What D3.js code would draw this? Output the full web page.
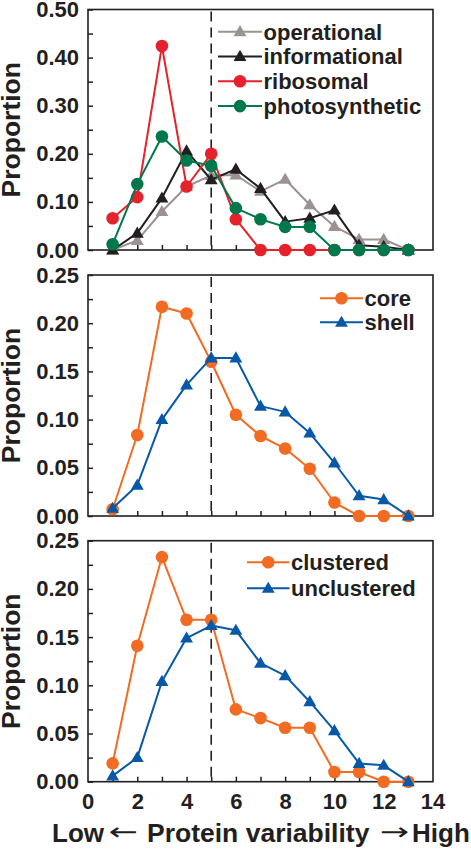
<!DOCTYPE html>
<html><head><meta charset="utf-8">
<script src="https://cdn.jsdelivr.net/npm/d3@7"></script>
<style>
html,body{margin:0;padding:0;background:#fff;}
svg{display:block;}
text{font-family:"Liberation Sans",Arial,Helvetica,sans-serif;font-weight:bold;fill:#231f20;}
</style></head>
<body>
<svg id="chart" width="471" height="849"></svg>
<script>
// ---------- data ----------
const variability = [1,2,3,4,5,6,7,8,9,10,11,12,13];
const operational    = [0.000,0.020,0.080,0.132,0.155,0.156,0.122,0.147,0.094,0.049,0.022,0.022,0.000];
const informational  = [0.000,0.035,0.108,0.206,0.146,0.168,0.128,0.059,0.066,0.083,0.010,0.007,0.000];
const ribosomal      = [0.066,0.110,0.424,0.132,0.200,0.064,0.000,0.000,0.000,0.000,0.000,0.000,0.000];
const photosynthetic = [0.012,0.137,0.236,0.186,0.175,0.087,0.064,0.048,0.048,0.000,0.000,0.000,0.000];
const core    = [0.007,0.084,0.217,0.210,0.160,0.105,0.083,0.070,0.049,0.014,0.000,0.000,0.000];
const shell   = [0.008,0.032,0.100,0.136,0.164,0.164,0.114,0.108,0.086,0.055,0.021,0.017,0.000];
const clustered   = [0.019,0.141,0.233,0.168,0.168,0.075,0.066,0.056,0.056,0.010,0.010,0.000,0.000];
const unclustered = [0.006,0.025,0.104,0.149,0.162,0.157,0.123,0.110,0.083,0.053,0.019,0.017,0.000];
const xTickValues = [0,1,2,3,4,5,6,7,8,9,10,11,12,13,14];
const xTickLabels = ["0","","2","","4","","6","","8","","10","","12","","14"];
const yTicksTop = [0,0.05,0.10,0.15,0.20,0.25,0.30,0.35,0.40,0.45,0.50];
const yLabelsTop = [0,0.10,0.20,0.30,0.40,0.50];
const yTicksLow = [0,0.025,0.05,0.075,0.10,0.125,0.15,0.175,0.20,0.225,0.25];
const yLabelsLow = [0,0.05,0.10,0.15,0.20,0.25];
const dividerX = 5;
const yTitle = "Proportion";
const xTitleParts = ["Low","←","Protein variability","→","High"];

// ---------- styles ----------
const COL = {operational:"#9b9291", informational:"#231f20", ribosomal:"#e5222b",
  photosynthetic:"#00784b", orange:"#f26b22", blue:"#0759a8"};
const ink = "#231f20";

const panels = [
  {top:9.5, bottom:250, ymax:0.5, ticks:yTicksTop, labels:yLabelsTop,
   series:[
    {name:"operational", values:operational, color:COL.operational, shape:"tri"},
    {name:"informational", values:informational, color:COL.informational, shape:"tri"},
    {name:"ribosomal", values:ribosomal, color:COL.ribosomal, shape:"circ"},
    {name:"photosynthetic", values:photosynthetic, color:COL.photosynthetic, shape:"circ"}],
   legend:{x1:218, x2:262, y0:31.7, dy:24.8}},
  {top:275, bottom:516, ymax:0.25, ticks:yTicksLow, labels:yLabelsLow,
   series:[
    {name:"core", values:core, color:COL.orange, shape:"circ"},
    {name:"shell", values:shell, color:COL.blue, shape:"tri"}],
   legend:{x1:320, x2:363, y0:298.3, dy:24}},
  {top:540.7, bottom:781.7, ymax:0.25, ticks:yTicksLow, labels:yLabelsLow,
   series:[
    {name:"clustered", values:clustered, color:COL.orange, shape:"circ"},
    {name:"unclustered", values:unclustered, color:COL.blue, shape:"tri"}],
   legend:{x1:247, x2:289.5, y0:562.3, dy:26}}
];

const svg = d3.select("#chart");
const x = d3.scaleLinear().domain([0,14]).range([88,433]);
const tri = d3.symbol().type(d3.symbolTriangle).size(72);

function marker(g, shape, color, cx, cy){
  if(shape==="circ"){
    g.append("circle").attr("cx",cx).attr("cy",cy).attr("r",6.3).attr("fill",color);
  } else {
    g.append("path").attr("d",tri()).attr("transform",`translate(${cx},${cy+0.8})`).attr("fill",color);
  }
}

panels.forEach((p,pi)=>{
  const y = d3.scaleLinear().domain([0,p.ymax]).range([p.bottom,p.top]);
  const g = svg.append("g");
  g.append("rect").attr("x",x(0)).attr("y",p.top).attr("width",x(14)-x(0)).attr("height",p.bottom-p.top)
    .attr("fill","none").attr("stroke",ink).attr("stroke-width",1.6);
  const fmt = d=> p.labels.some(l=>Math.abs(l-d)<1e-9) ? d3.format(".2f")(d) : "";
  const ya = g.append("g").attr("transform",`translate(${x(0)},0)`)
    .call(d3.axisLeft(y).tickValues(p.ticks).tickFormat(fmt).tickSize(-5).tickSizeOuter(0).tickPadding(9));
  ya.select(".domain").remove();
  ya.selectAll("line").attr("stroke",ink).attr("stroke-width",1.5);
  ya.selectAll("text").attr("font-size",22).attr("fill",ink).style("font-family",null);
  const last = pi===panels.length-1;
  const xa = g.append("g").attr("transform",`translate(0,${p.bottom})`)
    .call(d3.axisBottom(x).tickValues(xTickValues.slice(1,-1)).tickFormat((d,i)=> last ? xTickLabels[i+1] : "")
      .tickSize(-5).tickSizeOuter(0).tickPadding(11.5));
  xa.select(".domain").remove();
  xa.selectAll("line").attr("stroke",ink).attr("stroke-width",1.5);
  xa.selectAll("text").attr("font-size",22).attr("fill",ink);
  if(last){
    [0,14].forEach((v)=>{
      g.append("text").attr("x",x(v)).attr("y",p.bottom+11.5).attr("dy","0.71em")
       .attr("text-anchor","middle").attr("font-size",22).text(xTickLabels[xTickValues.indexOf(v)]);
    });
  }
  g.append("line").attr("x1",x(dividerX)).attr("x2",x(dividerX)).attr("y1",p.top+2).attr("y2",p.bottom)
    .attr("stroke",ink).attr("stroke-width",1.6).attr("stroke-dasharray","10,6");
  g.append("text").attr("transform",`translate(20,${(p.top+p.bottom)/2}) rotate(-90)`)
    .attr("text-anchor","middle").attr("font-size",26.5).text(yTitle);
  p.series.forEach(s=>{
    const line = d3.line().x((d,i)=>x(variability[i])).y(d=>y(d));
    g.append("path").datum(s.values).attr("d",line).attr("fill","none")
      .attr("stroke",s.color).attr("stroke-width",2).attr("stroke-linejoin","round");
    const mg = g.append("g");
    s.values.forEach((v,i)=> marker(mg, s.shape, s.color, x(variability[i]), y(v)));
  });
  p.series.forEach((s,i)=>{
    const ly = p.legend.y0 + i*p.legend.dy;
    g.append("line").attr("x1",p.legend.x1).attr("x2",p.legend.x2).attr("y1",ly).attr("y2",ly)
      .attr("stroke",s.color).attr("stroke-width",2);
    marker(g, s.shape, s.color, (p.legend.x1+p.legend.x2)/2, ly);
    g.append("text").attr("x",p.legend.x2+1.5).attr("y",ly).attr("dy","0.36em")
      .attr("font-size",22).text(s.name);
  });
});

// x title
const tb = 841.5;
const xt = svg.append("g");
xt.append("text").attr("x",52).attr("y",tb).attr("font-size",26).text(xTitleParts[0]);
xt.append("text").attr("x",147).attr("y",tb).attr("font-size",26.5).text(xTitleParts[2]);
xt.append("text").attr("x",412).attr("y",tb).attr("font-size",26).text(xTitleParts[4]);
// arrows: real text glyphs (DejaVu Sans) stretched to the reference length
[[xTitleParts[1],110,137],[xTitleParts[3],381,408]].forEach(([ch,x1,x2])=>{
  const t = xt.append("text").attr("x",0).attr("y",0).attr("font-size",24)
    .style("font-family","'DejaVu Sans',sans-serif").style("font-weight","normal").text(ch);
  const bb = t.node().getBBox();
  const w = t.node().getComputedTextLength();
  const sx = (x2-x1)/(w*0.92);
  // arrow shaft of DejaVu sits at about 0.32em above baseline
  t.attr("transform",`translate(${x1 - w*0.04*sx},${832 + 24*0.32}) scale(${sx},1)`);
});
</script>
</body></html>
